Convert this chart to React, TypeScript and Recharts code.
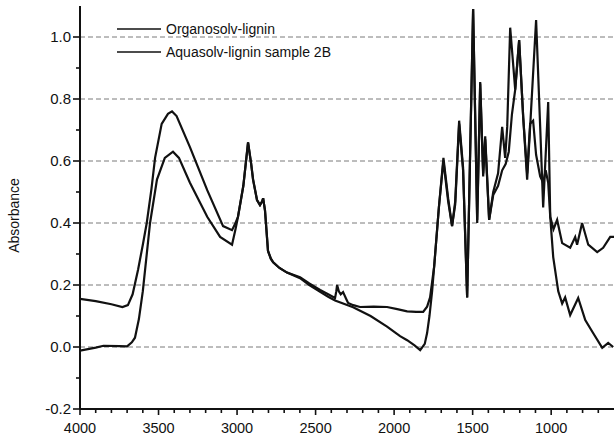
import { LineChart, Line, XAxis, YAxis, CartesianGrid, Legend } from "recharts";

// Organosolv-lignin spectrum (wavenumber cm-1 / absorbance)
const organosolvWavenumbers = [
  4000, 3900, 3800, 3730, 3695, 3665, 3630, 3600, 3575, 3545,
  3522, 3480, 3440, 3414, 3385, 3300, 3190, 3089, 3032, 3010,
  2994, 2960, 2930, 2910, 2898, 2873, 2854, 2840, 2834, 2822,
  2803, 2785, 2770, 2730, 2682, 2599, 2540, 2471, 2420, 2376,
  2368, 2363, 2352, 2340, 2325, 2305, 2293, 2260, 2217, 2130,
  2045, 1980, 1917, 1860, 1815, 1790, 1771, 1745, 1715, 1686,
  1656, 1631, 1611, 1586, 1561, 1535, 1497, 1471, 1452, 1433,
  1420, 1395, 1369, 1338, 1312, 1293, 1280, 1261, 1229, 1204,
  1178, 1153, 1134, 1096, 1070, 1051, 1019, 1006, 985, 962,
  930, 879, 847, 835, 803, 764, 707, 669, 624, 600,
];
const organosolvAbsorbance = [
  0.155, 0.148, 0.138, 0.129, 0.135, 0.17, 0.25, 0.33, 0.4, 0.51,
  0.61, 0.72, 0.752, 0.76, 0.745, 0.645, 0.506, 0.39, 0.377, 0.4,
  0.42, 0.52, 0.66, 0.59, 0.54, 0.474, 0.458, 0.47, 0.48, 0.44,
  0.31, 0.285, 0.273, 0.255, 0.24, 0.225, 0.205, 0.184, 0.17, 0.158,
  0.18, 0.2, 0.18, 0.17, 0.177, 0.155, 0.142, 0.135, 0.129, 0.13,
  0.129, 0.122, 0.115, 0.113, 0.113, 0.13, 0.16, 0.26, 0.45, 0.61,
  0.48, 0.39, 0.47, 0.73, 0.58, 0.16, 1.09, 0.41, 0.855, 0.56,
  0.68, 0.41, 0.5, 0.56, 0.71, 0.61, 0.71, 1.03, 0.83, 0.99,
  0.74, 0.54, 0.71, 1.055, 0.71, 0.45, 0.79, 0.42, 0.38, 0.41,
  0.335, 0.32, 0.355, 0.33, 0.4, 0.33, 0.306, 0.32, 0.355, 0.355,
];

// Aquasolv-lignin sample 2B spectrum
const aquasolvWavenumbers = [
  4000, 3900, 3850, 3750, 3700, 3670, 3650, 3625, 3600, 3554,
  3510, 3460, 3408, 3370, 3300, 3190, 3108, 3032, 3010, 2994,
  2960, 2930, 2910, 2898, 2873, 2854, 2840, 2834, 2822, 2803,
  2785, 2770, 2730, 2682, 2599, 2540, 2471, 2420, 2376, 2261,
  2150, 2045, 1962, 1917, 1870, 1834, 1805, 1790, 1775, 1758,
  1745, 1715, 1686, 1656, 1631, 1611, 1586, 1561, 1535, 1497,
  1471, 1452, 1433, 1420, 1395, 1369, 1338, 1312, 1290, 1270,
  1250, 1229, 1204, 1178, 1153, 1134, 1115, 1096, 1070, 1051,
  1035, 1019, 1006, 987, 955, 930, 911, 879, 828, 783,
  739, 675, 637, 605,
];
const aquasolvAbsorbance = [
  -0.012, -0.002, 0.004, 0.003, 0.002, 0.015, 0.03, 0.09, 0.18, 0.4,
  0.54, 0.61, 0.63, 0.61, 0.53, 0.42, 0.355, 0.33, 0.38, 0.42,
  0.52, 0.66, 0.59, 0.54, 0.474, 0.458, 0.47, 0.48, 0.44, 0.31,
  0.285, 0.273, 0.255, 0.24, 0.222, 0.2, 0.178, 0.162, 0.15, 0.128,
  0.1, 0.066, 0.035, 0.022, 0.005, -0.01, 0.01, 0.045, 0.1, 0.18,
  0.26, 0.45, 0.6, 0.47, 0.39, 0.46, 0.72, 0.57, 0.16, 1.09,
  0.4, 0.85, 0.55, 0.67, 0.41, 0.49, 0.52, 0.57, 0.59, 0.63,
  0.75, 0.83, 0.99, 0.74, 0.56, 0.72, 0.73, 0.62, 0.55, 0.53,
  0.57, 0.53, 0.42, 0.29, 0.18, 0.14, 0.16, 0.103, 0.158, 0.087,
  0.05, -0.003, 0.013, 0,
];

const seriesNames = ["Organosolv-lignin", "Aquasolv-lignin sample 2B"];

const xMajorTicks = [4000, 3500, 3000, 2500, 2000, 1500, 1000];
const xTicks: number[] = [];
for (let w = 4000; w >= 700; w -= 100) xTicks.push(w);

const yMajorTicks = [-0.2, 0, 0.2, 0.4, 0.6, 0.8, 1.0];
const yMinorTicks = [-0.1, 0.1, 0.3, 0.5, 0.7, 0.9];
const gridValues = [0, 0.2, 0.4, 0.6, 0.8, 1.0];

const organosolvData = organosolvWavenumbers.map((w, i) => ({ w, a: organosolvAbsorbance[i] }));
const aquasolvData = aquasolvWavenumbers.map((w, i) => ({ w, a: aquasolvAbsorbance[i] }));

const font = '"Liberation Sans", Arial, Helvetica, sans-serif';
const ink = "#111";

function XTick({ x, y, payload }: any) {
  const major = xMajorTicks.includes(payload.value);
  return (
    <g>
      <line x1={x} x2={x} y1={y} y2={y + (major ? 6 : 4)} stroke={ink} strokeWidth={1.6} />
      {major && (
        <text x={x} y={y + 24} textAnchor="middle" fill={ink} fontSize={14.5} fontFamily={font}>
          {payload.value}
        </text>
      )}
    </g>
  );
}

function YTick({ x, y, payload }: any) {
  const major = yMajorTicks.some((v) => Math.abs(v - payload.value) < 1e-6);
  return (
    <g>
      <line x1={x - (major ? 7 : 4)} x2={x} y1={y} y2={y} stroke={ink} strokeWidth={1.6} />
      {major && (
        <text x={x - 9} y={y + 5} textAnchor="end" fill={ink} fontSize={15} fontFamily={font}>
          {Number(payload.value).toFixed(1)}
        </text>
      )}
    </g>
  );
}

function LegendBox() {
  return (
    <div style={{ fontFamily: font, fontSize: 14, color: ink }}>
      {seriesNames.map((name) => (
        <div key={name} style={{ display: "flex", alignItems: "center", height: 23 }}>
          <svg width={44} height={4}>
            <line x1={0} x2={44} y1={2} y2={2} stroke={ink} strokeWidth={1.6} />
          </svg>
          <span style={{ marginLeft: 5 }}>{name}</span>
        </div>
      ))}
    </div>
  );
}

export default function App() {
  return (
    <div style={{ position: "absolute", left: 0, top: 0, background: "#fff" }}>
      <LineChart width={614} height={445} margin={{ top: 6, right: 0, bottom: 0, left: 0 }}>
        <CartesianGrid
          horizontal
          vertical={false}
          horizontalValues={gridValues}
          stroke="#7a7a7a"
          strokeDasharray="5 3"
        />
        <XAxis
          dataKey="w"
          type="number"
          domain={[600, 4000]}
          reversed
          allowDataOverflow
          ticks={xTicks}
          interval={0}
          tickSize={0}
          tickMargin={0}
          height={36}
          axisLine={{ stroke: ink, strokeWidth: 2 }}
          tickLine={false}
          tick={<XTick />}
        />
        <YAxis
          type="number"
          domain={[-0.2, 1.1]}
          allowDataOverflow
          ticks={[...yMajorTicks, ...yMinorTicks].sort((a, b) => a - b)}
          interval={0}
          tickSize={0}
          tickMargin={0}
          width={80}
          axisLine={{ stroke: ink, strokeWidth: 2 }}
          tickLine={false}
          tick={<YTick />}
          label={{
            value: "Absorbance",
            angle: -90,
            position: "insideLeft",
            offset: 0,
            dx: 14,
            dy: 8,
            style: { fontFamily: font, fontSize: 14, fill: ink, textAnchor: "middle" },
          }}
        />
        <Legend
          layout="vertical"
          align="center"
          verticalAlign="middle"
          wrapperStyle={{ left: 117, top: 17, width: "auto" }}
          content={() => <LegendBox />}
        />
        <Line
          data={organosolvData}
          dataKey="a"
          name={seriesNames[0]}
          type="linear"
          stroke={ink}
          strokeWidth={2.2}
          dot={false}
          isAnimationActive={false}
        />
        <Line
          data={aquasolvData}
          dataKey="a"
          name={seriesNames[1]}
          type="linear"
          stroke={ink}
          strokeWidth={2.2}
          dot={false}
          isAnimationActive={false}
        />
      </LineChart>
    </div>
  );
}
